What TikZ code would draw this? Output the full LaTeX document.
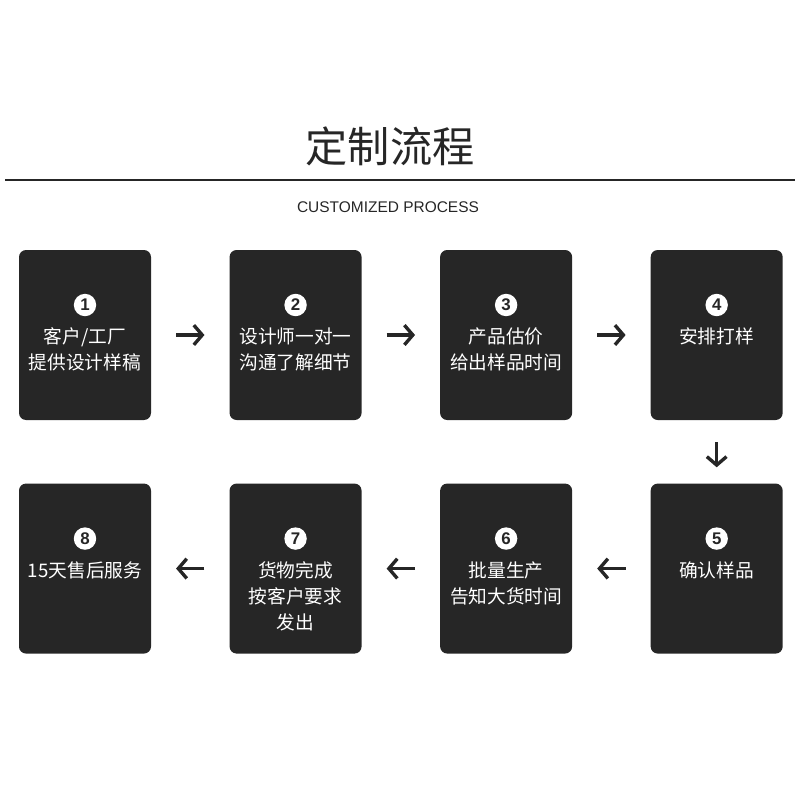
\documentclass[tikz,border=0pt]{standalone}
\usepackage{fontspec}
\setmainfont{Liberation Sans}
\newfontfamily\cjk{Noto Sans CJK SC}
\usetikzlibrary{arrows.meta,positioning}
\definecolor{ink}{HTML}{262626}

\begin{document}
\begin{tikzpicture}[
  stepbox/.style={fill=ink, rounded corners=5pt, minimum width=3.3cm, minimum height=4.25cm, inner sep=0pt},
  num/.style={circle, fill=white, inner sep=0pt, minimum size=0.56cm, font=\bfseries\large, text=ink},
  desc/.style={align=center, text=white, font=\cjk\fontsize{13.3}{18.5}\selectfont, inner sep=0pt, anchor=north},
  arr/.style={-{Straight Barb[length=6pt, width=14pt]}, line width=2.4pt, draw=ink, shorten >=0.62cm, shorten <=0.62cm}
]
\useasboundingbox (0,0) rectangle (20,-20);

% title
\node[text=ink, font=\cjk\fontsize{30}{34}\selectfont] (title) at (9.75,-3.65) {定制流程};
\coordinate (ruleL) at (0.125,-4.5);
\coordinate (ruleR) at (19.875,-4.5);
\draw[ink, line width=1.4pt] (ruleL) -- (ruleR);
\node[text=ink, font=\fontsize{11}{13}\selectfont] (subtitle) at (9.7,-5.18) {CUSTOMIZED PROCESS};

% first row
\node[stepbox] (s1) at (2.125,-8.375) {};
\node[stepbox, right=1.95cm of s1] (s2) {};
\node[stepbox, right=1.95cm of s2] (s3) {};
\node[stepbox, right=1.95cm of s3] (s4) {};

% second row
\node[stepbox, below=1.575cm of s4] (s5) {};
\node[stepbox, left=1.95cm of s5] (s6) {};
\node[stepbox, left=1.95cm of s6] (s7) {};
\node[stepbox, left=1.95cm of s7] (s8) {};

% numbers
\foreach \i in {1,...,8}
  \node[num] (n\i) at ([yshift=0.75cm]s\i.center) {\i};

% texts
\node[desc, below=0.28cm of n1] (t1) {客户/工厂\\提供设计样稿};
\node[desc, below=0.28cm of n2] (t2) {设计师一对一\\沟通了解细节};
\node[desc, below=0.28cm of n3] (t3) {产品估价\\给出样品时间};
\node[desc, below=0.28cm of n4] (t4) {安排打样};
\node[desc, below=0.28cm of n5] (t5) {确认样品};
\node[desc, below=0.28cm of n6] (t6) {批量生产\\告知大货时间};
\node[desc, below=0.28cm of n7] (t7) {货物完成\\按客户要求\\发出};
\node[desc, below=0.28cm of n8] (t8) {15天售后服务};

% arrows
\draw[arr] (s1) -- (s2);
\draw[arr] (s2) -- (s3);
\draw[arr] (s3) -- (s4);
\draw[arr, shorten <=0.55cm, shorten >=0.4cm] (s4) -- (s5);
\draw[arr] (s5) -- (s6);
\draw[arr] (s6) -- (s7);
\draw[arr] (s7) -- (s8);

\end{tikzpicture}
\end{document}
